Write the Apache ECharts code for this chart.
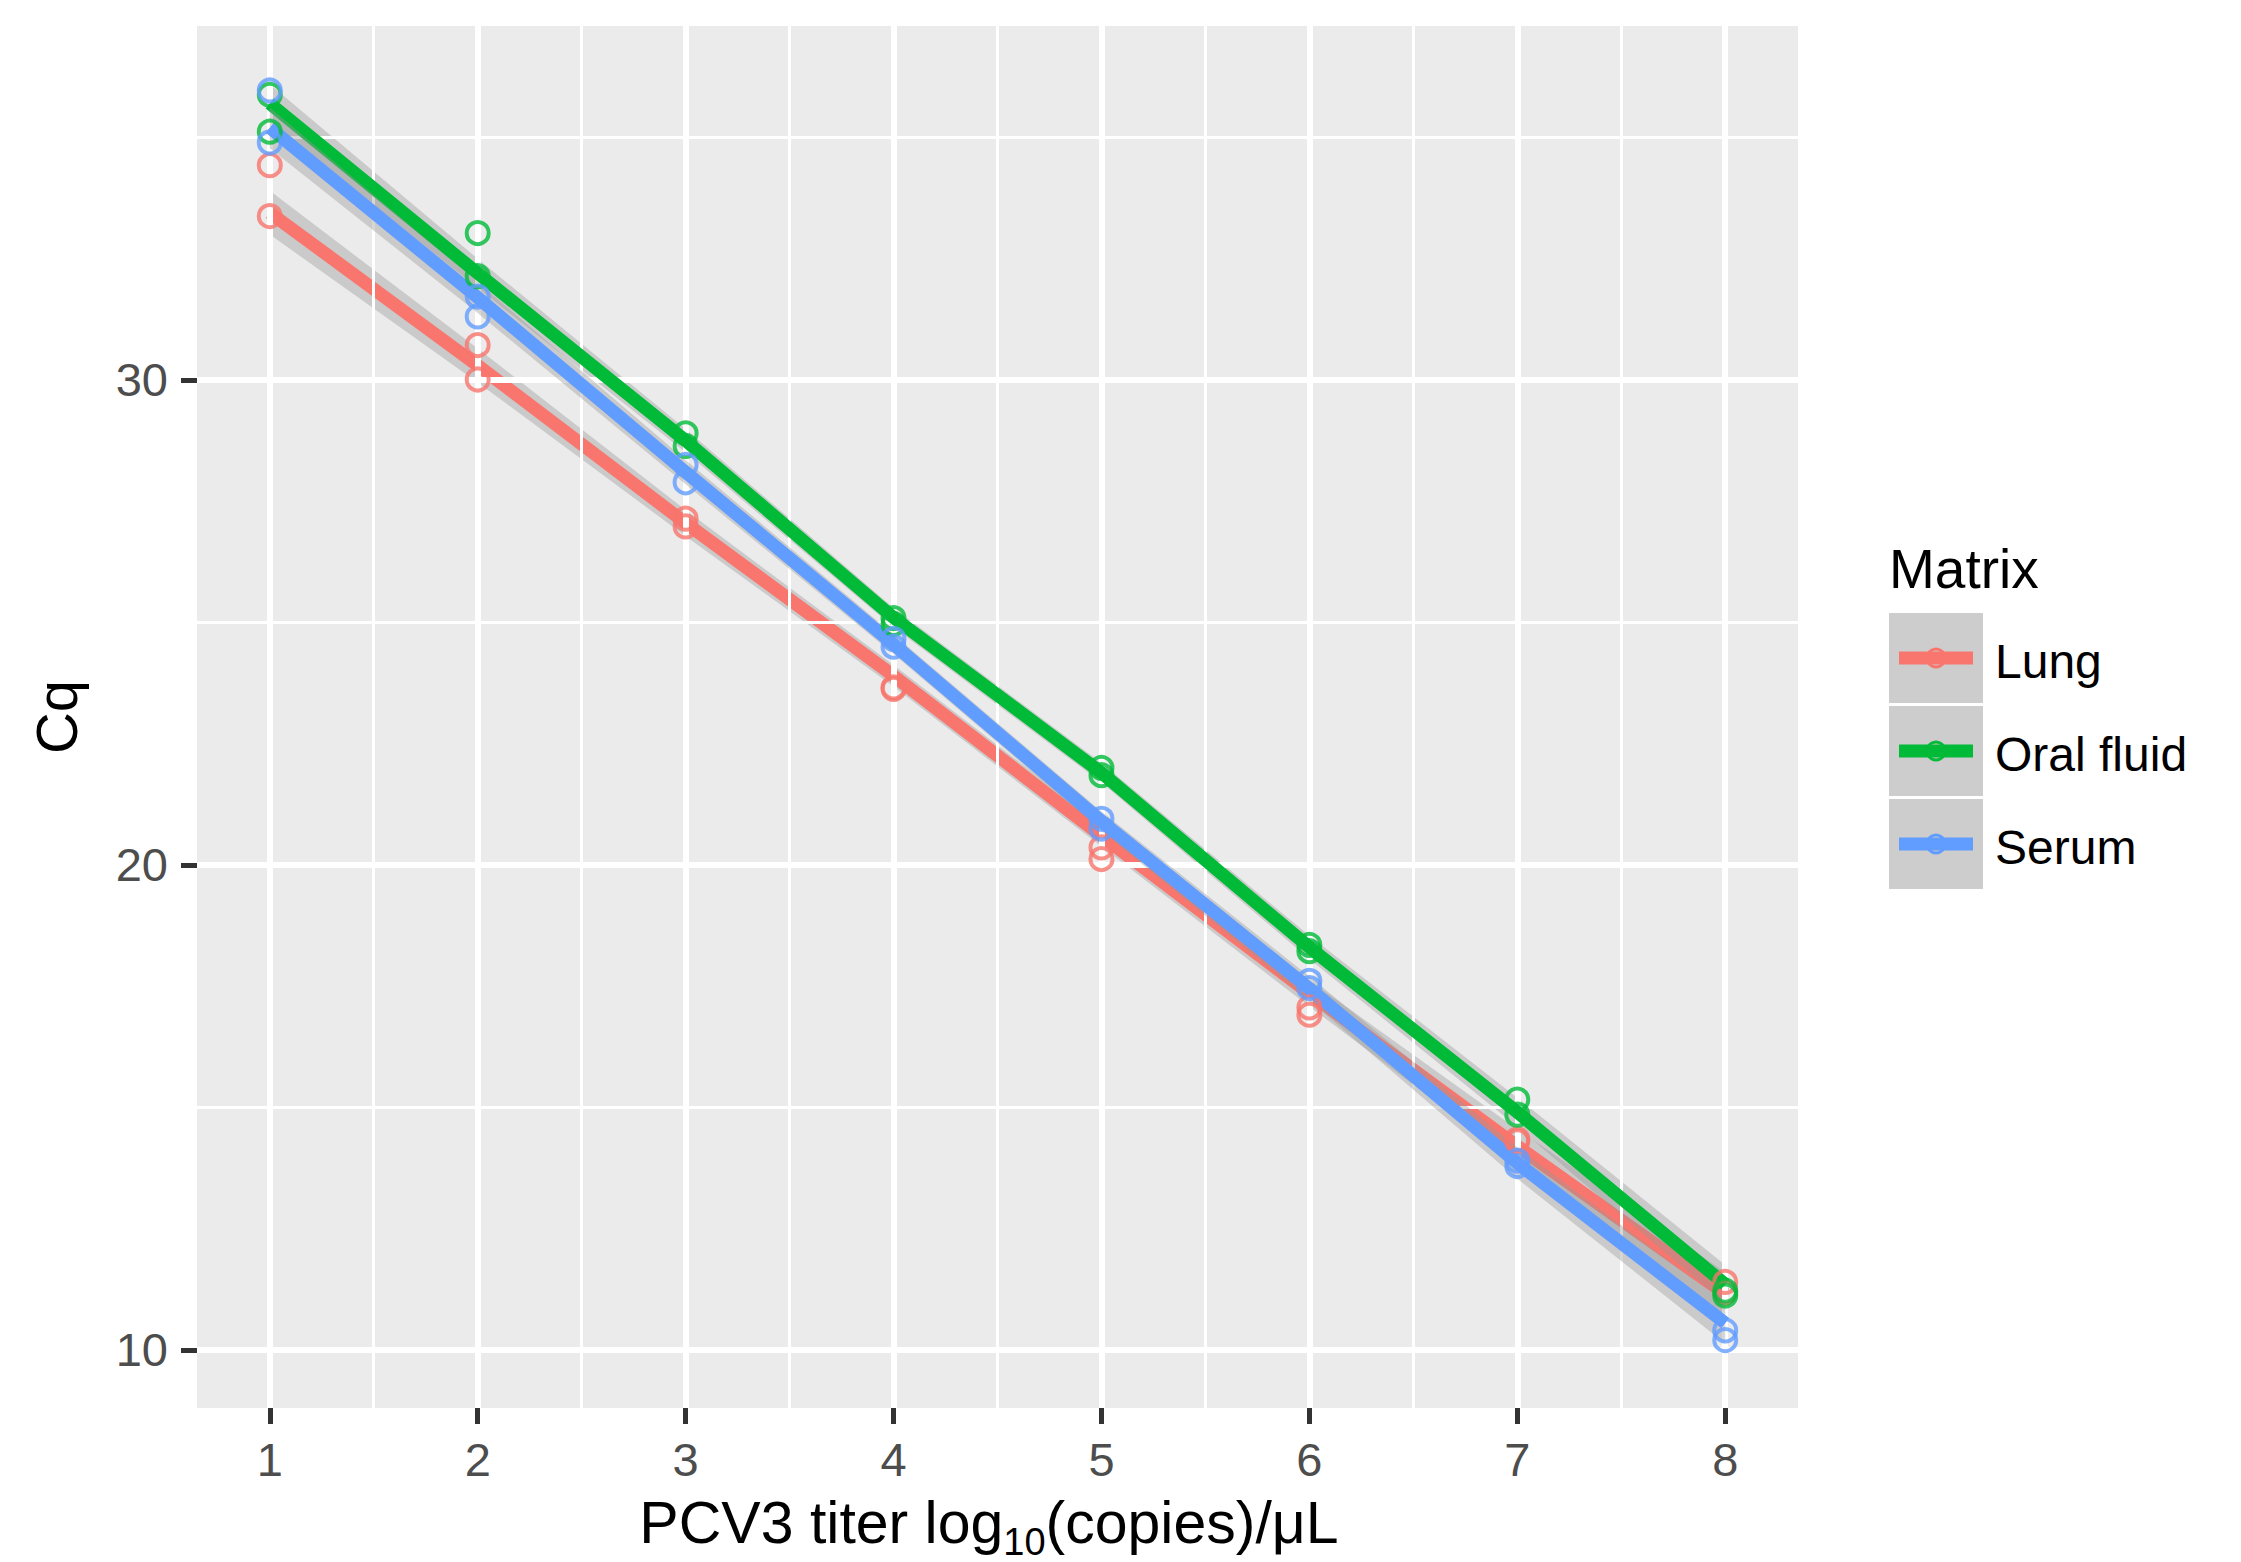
<!DOCTYPE html>
<html>
<head>
<meta charset="utf-8">
<script src="https://cdn.jsdelivr.net/npm/echarts@6/dist/echarts.min.js"></script>
<style>
html,body{margin:0;padding:0;background:#fff;overflow:hidden;}
#chart{width:2241px;height:1562px;}
</style>
</head>
<body>
<div id="chart"></div>
<script>
// ---------- data ----------
const titer = [1, 2, 3, 4, 5, 6, 7, 8];
const matrices = ['Lung', 'Oral fluid', 'Serum'];
const xTicks = [1, 2, 3, 4, 5, 6, 7, 8];
const yTicks = [10, 20, 30];
const xMinor = [1.5, 2.5, 3.5, 4.5, 5.5, 6.5, 7.5];
const yMinor = [15, 25, 35];

// replicate Cq values (two per titer)
const lungRep1  = [34.43, 30.72, 27.14, 23.63, 20.36, 17.06, 14.34, 11.40];
const lungRep2  = [33.38, 30.01, 26.98, 23.66, 20.12, 16.91, 14.30, 11.18];
const oralRep1  = [35.88, 33.03, 28.90, 25.09, 22.00, 18.35, 15.16, 11.22];
const oralRep2  = [35.12, 32.14, 28.64, 24.97, 21.85, 18.22, 14.85, 11.12];
const serumRep1 = [35.97, 31.72, 28.25, 24.66, 20.95, 17.61, 13.90, 10.40];
const serumRep2 = [34.90, 31.31, 27.89, 24.50, 20.75, 17.46, 13.79, 10.20];

// fitted lines read at each titer
const lungFit  = [33.45, 30.30, 27.05, 23.90, 20.60, 17.35, 14.20, 11.15];
const oralFit  = [35.70, 32.20, 28.75, 25.10, 21.90, 18.30, 14.90, 11.35];
const serumFit = [35.20, 31.70, 28.10, 24.55, 20.90, 17.45, 13.85, 10.55];

// confidence band half widths read at each titer
const lungBand  = [0.45, 0.35, 0.27, 0.22, 0.22, 0.27, 0.35, 0.45];
const oralBand  = [0.40, 0.30, 0.24, 0.20, 0.20, 0.24, 0.30, 0.40];
const serumBand = [0.42, 0.32, 0.25, 0.20, 0.20, 0.25, 0.32, 0.42];

// ---------- styling ----------
const colors = ['#F8766D', '#00BA38', '#619CFF'];
const FONT = '"Liberation Sans", Arial, Helvetica, sans-serif';
const reps = [[lungRep1, lungRep2], [oralRep1, oralRep2], [serumRep1, serumRep2]];
const fits = [lungFit, oralFit, serumFit];
const bands = [lungBand, oralBand, serumBand];

const series = [];

// grid lines via markLine
series.push({
  type: 'line', data: [[1, 20]], showSymbol: false, silent: true, z: 1,
  lineStyle: { width: 0, opacity: 0 },
  markLine: {
    silent: true, symbol: ['none', 'none'], label: { show: false }, animation: false,
    lineStyle: { color: '#ffffff', width: 3, type: 'solid' },
    emphasis: { disabled: true },
    data: xMinor.map(v => ({ xAxis: v })).concat(yMinor.map(v => ({ yAxis: v })))
  }
});
series.push({
  type: 'line', data: [[1, 20]], showSymbol: false, silent: true, z: 1,
  lineStyle: { width: 0, opacity: 0 },
  markLine: {
    silent: true, symbol: ['none', 'none'], label: { show: false }, animation: false,
    lineStyle: { color: '#ffffff', width: 6, type: 'solid' },
    emphasis: { disabled: true },
    data: xTicks.map(v => ({ xAxis: v })).concat(yTicks.map(v => ({ yAxis: v })))
  }
});

matrices.forEach((name, k) => {
  const fit = fits[k], band = bands[k];
  // ribbon
  series.push({
    type: 'custom', name: name + ' band', silent: true, z: 2 + 2 * k,
    data: titer.map((x, i) => [x, fit[i] - band[i], fit[i] + band[i]]),
    encode: { x: 0, y: [1, 2] },
    renderItem: function (params, api) {
      if (params.dataIndex !== 0) return null;
      const pts = [];
      for (let i = 0; i < titer.length; i++) pts.push(api.coord([titer[i], fit[i] + band[i]]));
      for (let i = titer.length - 1; i >= 0; i--) pts.push(api.coord([titer[i], fit[i] - band[i]]));
      return { type: 'polygon', shape: { points: pts }, style: { fill: 'rgba(153,153,153,0.4)' } };
    }
  });
  // fitted line
  series.push({
    type: 'line', name: name, z: 3 + 2 * k, silent: true,
    data: titer.map((x, i) => [x, fit[i]]),
    showSymbol: false, symbol: 'none',
    lineStyle: { color: colors[k], width: 13, cap: 'butt' },
    itemStyle: { color: colors[k] }
  });
});

matrices.forEach((name, k) => {
  const d = [];
  titer.forEach((x, i) => { d.push([x, reps[k][0][i]]); d.push([x, reps[k][1][i]]); });
  series.push({
    type: 'scatter', name: name + ' points', z: 10, silent: true,
    data: d, symbol: 'circle', symbolSize: 22,
    itemStyle: { color: 'rgba(0,0,0,0)', borderColor: colors[k], borderWidth: 4 }
  });
});

// legend drawn as graphic elements
const legendX = 1889, legendTop = 613, keyW = 94, keyH = 90, keyGap = 3;
const graphics = [{
  type: 'text', left: legendX, top: 541,
  style: { text: 'Matrix', font: '55px ' + FONT, fill: '#000' }
}];
matrices.forEach((name, k) => {
  const y0 = legendTop + k * (keyH + keyGap);
  const cy = y0 + keyH / 2;
  graphics.push({ type: 'rect', shape: { x: legendX, y: y0, width: keyW, height: keyH }, style: { fill: '#CDCDCD' } });
  graphics.push({ type: 'line', shape: { x1: legendX + 10, y1: cy, x2: legendX + keyW - 10, y2: cy }, style: { stroke: colors[k], lineWidth: 13 } });
  graphics.push({ type: 'circle', shape: { cx: legendX + keyW / 2, cy: cy, r: 9 }, style: { fill: 'none', stroke: colors[k], lineWidth: 3 } });
  graphics.push({
    type: 'text', x: 1995, y: cy + 3,
    style: { text: name, font: '48px ' + FONT, fill: '#000', textVerticalAlign: 'middle', verticalAlign: 'middle' }
  });
});

const option = {
  animation: false,
  backgroundColor: '#ffffff',
  grid: {
    left: 197, right: 443, top: 26, bottom: 154,
    show: true, backgroundColor: '#EBEBEB', borderWidth: 0,
    containLabel: false, outerBoundsMode: 'none'
  },
  xAxis: {
    type: 'value', min: 0.65, max: 8.35,
    name: '{n|PCV3 titer log}{s|10}{n|(copies)/μL}',
    nameLocation: 'middle', nameGap: 77,
    nameTextStyle: {
      padding: [0, 17, 0, 0],
      rich: {
        n: { fontSize: 59, fontFamily: FONT, color: '#000', lineHeight: 76, verticalAlign: 'middle' },
        s: { fontSize: 38, fontFamily: FONT, color: '#000', lineHeight: 40, verticalAlign: 'bottom' }
      }
    },
    axisLine: { show: false },
    axisTick: { show: true, length: 16, customValues: xTicks, lineStyle: { color: '#333333', width: 5 } },
    axisLabel: { customValues: xTicks, margin: 28, fontSize: 47, fontFamily: FONT, color: '#4D4D4D' },
    splitLine: { show: false }
  },
  yAxis: {
    type: 'value', min: 8.8, max: 37.3,
    name: 'Cq', nameLocation: 'middle', nameGap: 112, nameRotate: 90,
    nameTextStyle: { fontSize: 58, fontFamily: FONT, color: '#000' },
    axisLine: { show: false },
    axisTick: { show: true, length: 16, customValues: yTicks, lineStyle: { color: '#333333', width: 5 } },
    axisLabel: { customValues: yTicks, margin: 29, fontSize: 47, fontFamily: FONT, color: '#4D4D4D' },
    splitLine: { show: false }
  },
  graphic: graphics,
  series: series
};

const chart = echarts.init(document.getElementById('chart'), null, { renderer: 'svg', width: 2241, height: 1562 });
chart.setOption(option);
</script>
</body>
</html>
